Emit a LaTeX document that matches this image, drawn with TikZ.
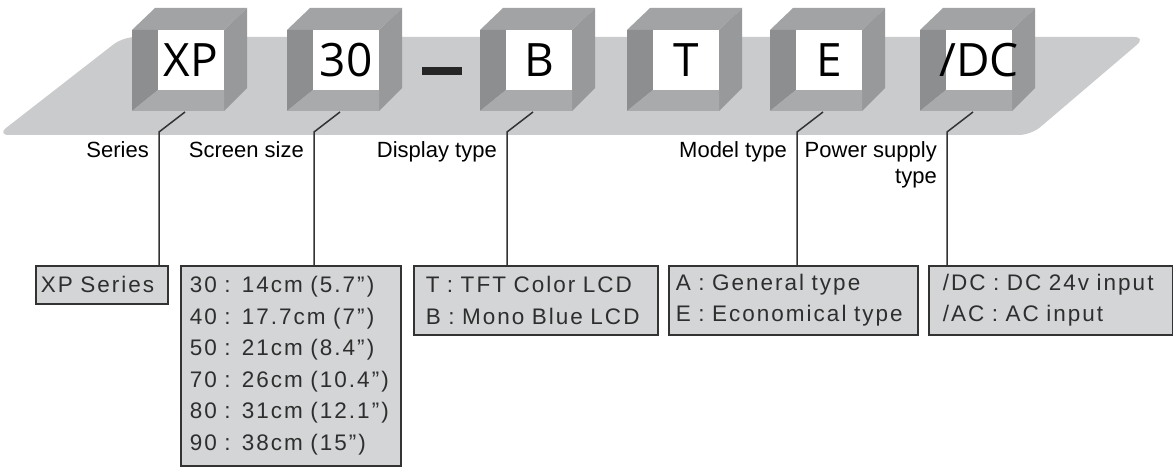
\documentclass[tikz,border=0pt]{standalone}
\usepackage{fontspec}
\setmainfont{Liberation Sans}
\newfontfamily\boxfont[LetterSpace=9]{Liberation Sans}
\newfontfamily\cubefont{Open Sans}
\usetikzlibrary{calc,positioning}
\definecolor{platgray}{HTML}{CACBCD}
\definecolor{topgray}{HTML}{A2A3A5}
\definecolor{wallgray}{HTML}{8D8E90}
\definecolor{floorgray}{HTML}{A9AAAC}
\definecolor{sidegray}{HTML}{98999B}
\definecolor{boxgray}{HTML}{D4D5D7}
\definecolor{boxline}{HTML}{333333}
\definecolor{textgray}{HTML}{2E2E2E}
\tikzset{
    plat/.style = {fill=platgray, rounded corners=12pt},
    cubetext/.style = {font=\cubefont\fontsize{46}{46}\selectfont, inner sep=0pt},
    info/.style = {draw=boxline, fill=boxgray, line width=1.5pt, anchor=north west,
        align=left, text=textgray, inner ysep=0pt,
        font=\boxfont\fontsize{22.5}{31.5}\selectfont},
    lab/.style = {anchor=base east, align=right, inner sep=0pt,
        font=\fontsize{22}{25}\selectfont},
    wire/.style = {draw=boxline, line width=1.5pt}
}
\begin{document}
\begin{tikzpicture}[x=1pt, y=-1pt]
    \useasboundingbox (0,0) rectangle (1173,468);
    \fill[plat] (-3,135) -- (123,37) -- (1146,37) -- (1031,135) -- cycle;

    \foreach \L/\t/\n in {132/XP/xp, 287/30/size, 480/B/disp, 627/T/tee, 770/E/model, 920/{/DC}/power} {
        \fill[topgray] (\L,30) -- (\L+23,8) -- (\L+115,8) -- (\L+92,30) -- cycle;
        \fill[sidegray] (\L+92,30) -- (\L+115,8) -- (\L+115,88) -- (\L+92,111) -- cycle;
        \fill[wallgray] (\L,30) -- (\L+26,30) -- (\L+26,90) -- (\L,111) -- cycle;
        \fill[floorgray] (\L,111) -- (\L+26,90) -- (\L+92,90) -- (\L+92,111) -- cycle;
        \fill[white] (\L+26,30) rectangle (\L+92,90);
        \node[cubetext] (c\n) at (\L+59,60) {\t};
        \coordinate (k\n) at (\L+53,112);
        \coordinate (j\n) at (\L+27,132);
    }
    \fill[black!85] (422,67) rectangle (462,75);

    \node[info, minimum width=132pt, minimum height=38pt, inner xsep=5pt, text width=122pt] (bxp) at (35,265) {XP Series};
    \node[info, minimum width=220pt, minimum height=200pt, inner xsep=9pt, text width=202pt] (bsize) at (180,265)
        {\mbox{30 : 14cm (5.7”)}\\\mbox{40 : 17.7cm (7”)}\\\mbox{50 : 21cm (8.4”)}\\
         \mbox{70 : 26cm (10.4”)}\\\mbox{80 : 31cm (12.1”)}\\\mbox{90 : 38cm (15”)}};
    \node[info, minimum width=244pt, minimum height=69pt, inner xsep=12pt, text width=220pt] (bdisp) at (413,265)
        {T : TFT Color LCD\\B : Mono Blue LCD};
    \node[info, minimum width=249pt, minimum height=69pt, inner xsep=7pt, text width=235pt] (bmodel) at (668,265)
        {A : General type\\E : Economical type};
    \node[info, minimum width=244pt, minimum height=69pt, inner xsep=14pt, text width=216pt] (bpower) at (928,265)
        {/DC : DC 24v input\\/AC : AC input};

    \node[lab] (lxp) at ([shift={(-10,26)}]jxp) {Series};
    \node[lab] (lsize) at ([shift={(-10,26)}]jsize) {Screen size};
    \node[lab] (ldisp) at ([shift={(-10,26)}]jdisp) {Display type};
    \node[lab] (lmodel) at ([shift={(-10,26)}]jmodel) {Model type};
    \node[lab] (lpower) at ([shift={(-10,51)}]jpower) {Power supply\\type};

    \draw[wire] (kxp) -- (jxp) -- (jxp |- bxp.north);
    \draw[wire] (ksize) -- (jsize) -- (jsize |- bsize.north);
    \draw[wire] (kdisp) -- (jdisp) -- (jdisp |- bdisp.north);
    \draw[wire] (kmodel) -- (jmodel) -- (jmodel |- bmodel.north);
    \draw[wire] (kpower) -- (jpower) -- (jpower |- bpower.north);
\end{tikzpicture}
\end{document}
